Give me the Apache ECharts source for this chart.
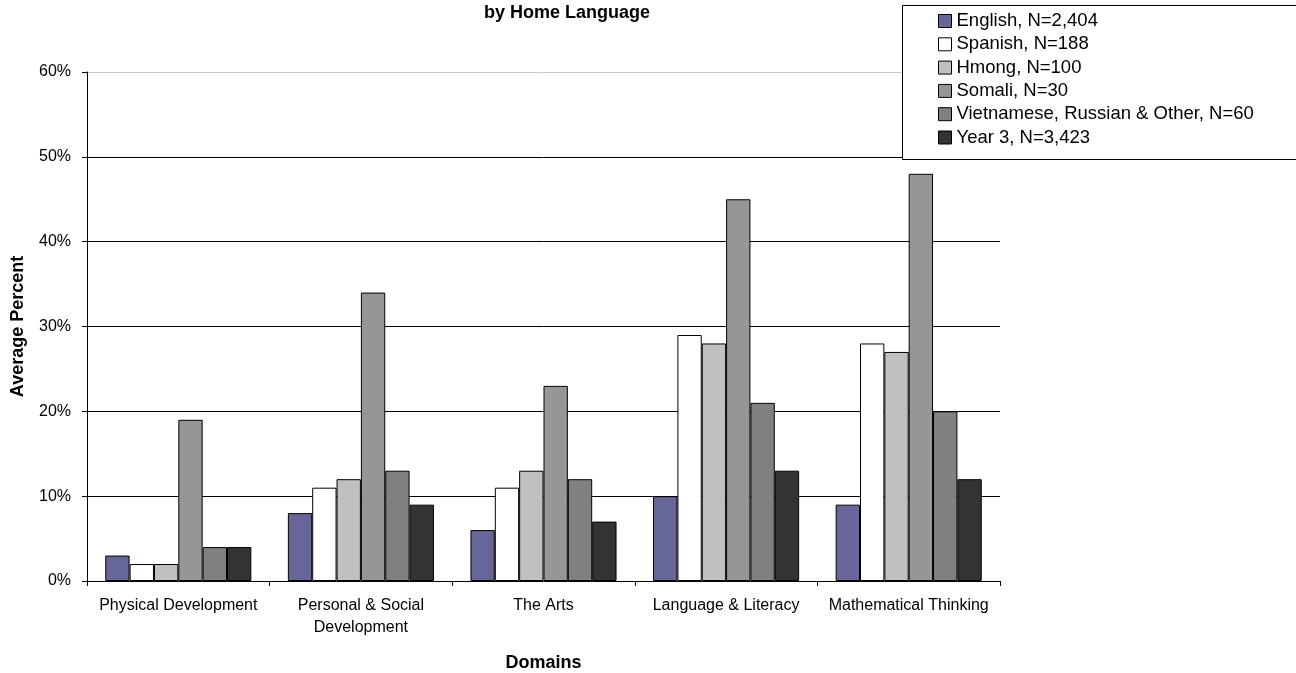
<!DOCTYPE html>
<html>
<head>
<meta charset="utf-8">
<script src="https://cdn.jsdelivr.net/npm/echarts@6/dist/echarts.min.js"></script>
<style>
  html, body { margin: 0; padding: 0; background: #fff; }
  #main { width: 1296px; height: 673px; }
</style>
</head>
<body>
<div id="main"></div>
<script>
// 类目和数值
var domains = ['Physical Development', 'Personal & Social\nDevelopment', 'The Arts', 'Language & Literacy', 'Mathematical Thinking'];
var seriesNames = ['English, N=2,404', 'Spanish, N=188', 'Hmong, N=100', 'Somali, N=30', 'Vietnamese, Russian & Other, N=60', 'Year 3, N=3,423'];
var english = [3, 8, 6, 10, 9];
var spanish = [2, 11, 11, 29, 28];
var hmong = [2, 12, 13, 28, 27];
var somali = [19, 34, 23, 45, 48];
var vietnamese = [4, 13, 12, 21, 20];
var year3 = [4, 9, 7, 13, 12];
var yTicks = [0, 10, 20, 30, 40, 50, 60];

var colors = ['#666699', '#ffffff', '#c0c0c0', '#969696', '#808080', '#333333'];
var values = [english, spanish, hmong, somali, vietnamese, year3];
var font = 'Arial, "Liberation Sans", sans-serif';

var myChart = echarts.init(document.getElementById('main'));

var series = values.map(function (arr, i) {
  return {
    name: seriesNames[i],
    type: 'bar',
    data: arr,
    barGap: '0%',
    barCategoryGap: '20%',
    itemStyle: { color: colors[i], borderColor: '#000', borderWidth: 1 }
  };
});

myChart.setOption({
  animation: false,
  textStyle: { fontFamily: font },
  title: {
    text: 'by Home Language',
    left: 562,
    top: -1,
    textAlign: 'center',
    textStyle: { fontSize: 18, fontWeight: 'bold', color: '#000', fontFamily: font }
  },
  // 图例外框
  graphic: [{
    type: 'rect',
    z: 10,
    shape: { x: 902.5, y: 5.5, width: 420, height: 154 },
    style: { fill: '#fff', stroke: '#000', lineWidth: 1 }
  }],
  legend: {
    z: 11,
    orient: 'vertical',
    left: 938,
    top: 11,
    padding: 0,
    itemWidth: 13,
    itemHeight: 13,
    itemGap: 3.3,
    icon: 'rect',
    itemStyle: { borderColor: '#000', borderWidth: 1 },
    textStyle: { fontSize: 18.5, color: '#000', lineHeight: 20, fontFamily: font },
    data: seriesNames
  },
  grid: { left: 87, right: 296, top: 72, bottom: 92, outerBoundsMode: 'none' },
  xAxis: {
    type: 'category',
    data: domains,
    name: 'Domains',
    nameLocation: 'middle',
    nameGap: 73,
    nameTextStyle: { fontSize: 18, fontWeight: 'bold', color: '#000' },
    axisLine: { lineStyle: { color: '#000' } },
    axisTick: { show: true, length: 5, lineStyle: { color: '#000' } },
    axisLabel: { fontSize: 16, color: '#000', margin: 14, lineHeight: 22, interval: 0 }
  },
  yAxis: {
    type: 'value',
    min: 0,
    max: 60,
    interval: 10,
    name: 'Average Percent',
    nameLocation: 'middle',
    nameGap: 60,
    nameTextStyle: { fontSize: 18, fontWeight: 'bold', color: '#000' },
    axisLine: { show: true, lineStyle: { color: '#000' } },
    axisTick: { show: true, length: 5, lineStyle: { color: '#000' } },
    axisLabel: {
      fontSize: 16, color: '#000', margin: 16,
      formatter: function (v) { return yTicks.indexOf(v) >= 0 ? v + '%' : ''; }
    },
    splitLine: { lineStyle: { color: ['#000', '#000', '#000', '#000', '#000', '#000', '#c8c8c8'] } }
  },
  series: series
});
</script>
</body>
</html>
